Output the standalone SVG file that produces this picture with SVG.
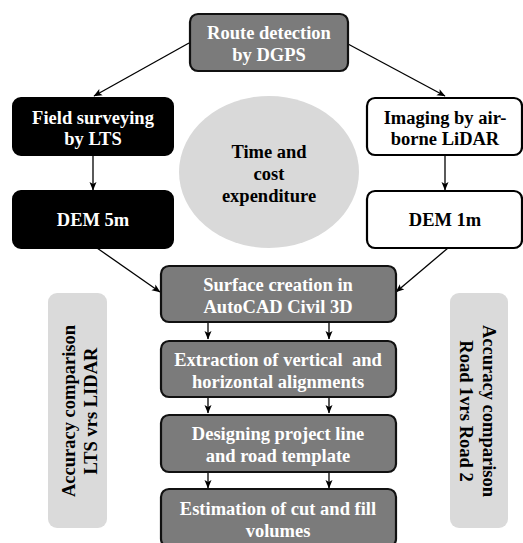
<svg xmlns="http://www.w3.org/2000/svg" width="523" height="543" viewBox="0 0 523 543">
<defs>
<marker id="ah" markerWidth="9" markerHeight="8" refX="8" refY="4" orient="auto" markerUnits="userSpaceOnUse">
<path d="M0,0.5 L8.5,4 L0,7.5 L2,4 z" fill="#000"/>
</marker>
<style>
.gbox{fill:#7b7b7b;stroke:#111;stroke-width:2.2}
.bbox{fill:#000;stroke:#000;stroke-width:2}
.wbox{fill:#fff;stroke:#000;stroke-width:2.2}
.side{fill:#dadada}
.t{font-family:"Liberation Serif","Times New Roman",serif;font-weight:bold;font-size:18.5px;text-anchor:middle}
.w{fill:#fff}
.k{fill:#000}
.c line{stroke:#000;stroke-width:1.3;marker-end:url(#ah)}
</style>
</defs>
<rect width="523" height="543" fill="#fff"/>

<g id="ellipse-time">
<ellipse cx="269" cy="172" rx="90" ry="76" fill="#d9d9d9"/>
<text class="t k" x="269" y="158">Time and</text>
<text class="t k" x="269" y="180">cost</text>
<text class="t k" x="269" y="202">expenditure</text>
</g>

<g id="side-left">
<rect class="side" x="48" y="293" width="59" height="235" rx="9"/>
<g transform="translate(80,411) rotate(-90)">
<text class="t k" x="0" y="-5">Accuracy comparison</text>
<text class="t k" x="0" y="17">LTS vrs LIDAR</text>
</g>
</g>

<g id="side-right">
<rect class="side" x="450" y="293" width="58" height="235" rx="9"/>
<g transform="translate(478,411) rotate(90)">
<text class="t k" x="0" y="-5">Accuracy comparison</text>
<text class="t k" x="0" y="18">Road 1vrs Road 2</text>
</g>
</g>

<g class="c" id="connectors">
<line x1="189" y1="43" x2="94" y2="96"/>
<line x1="348" y1="44" x2="445" y2="96"/>
<line x1="93" y1="155" x2="93" y2="190"/>
<line x1="445" y1="155" x2="445" y2="190"/>
<line x1="97" y1="248" x2="160" y2="292"/>
<line x1="448" y1="248" x2="396" y2="292"/>
<line x1="208" y1="323" x2="208" y2="339"/>
<line x1="329" y1="323" x2="329" y2="339"/>
<line x1="208" y1="397" x2="208" y2="413"/>
<line x1="329" y1="397" x2="329" y2="413"/>
<line x1="208" y1="472" x2="208" y2="488"/>
<line x1="329" y1="472" x2="329" y2="488"/>
</g>

<g id="route">
<rect class="gbox" x="190" y="14" width="158" height="57" rx="8"/>
<text class="t w" x="269" y="39">Route detection</text>
<text class="t w" x="269" y="61">by DGPS</text>
</g>

<g id="field">
<rect class="bbox" x="13" y="98" width="160" height="57" rx="8"/>
<text class="t w" x="93" y="124">Field surveying</text>
<text class="t w" x="93" y="145">by LTS</text>
</g>

<g id="imaging">
<rect class="wbox" x="367" y="98" width="155" height="57" rx="8"/>
<text class="t k" x="445" y="124">Imaging by air-</text>
<text class="t k" x="445" y="145">borne LiDAR</text>
</g>

<g id="dem5">
<rect class="bbox" x="13" y="191" width="160" height="57" rx="8"/>
<text class="t w" x="93" y="226">DEM 5m</text>
</g>

<g id="dem1">
<rect class="wbox" x="367" y="191" width="155" height="57" rx="8"/>
<text class="t k" x="445" y="226">DEM 1m</text>
</g>

<g id="surface">
<rect class="gbox" x="161" y="266" width="235" height="56" rx="8"/>
<text class="t w" x="278" y="291">Surface creation in</text>
<text class="t w" x="278" y="313">AutoCAD Civil 3D</text>
</g>

<g id="extraction">
<rect class="gbox" x="161" y="341" width="235" height="56" rx="8"/>
<text class="t w" x="278" y="366" xml:space="preserve">Extraction of vertical  and</text>
<text class="t w" x="278" y="388">horizontal alignments</text>
</g>

<g id="designing">
<rect class="gbox" x="161" y="415" width="235" height="57" rx="8"/>
<text class="t w" x="278" y="440">Designing project line</text>
<text class="t w" x="278" y="462">and road template</text>
</g>

<g id="estimation">
<rect class="gbox" x="161" y="489" width="235" height="58" rx="8"/>
<text class="t w" x="278" y="515">Estimation of cut and fill</text>
<text class="t w" x="278" y="537">volumes</text>
</g>
</svg>
